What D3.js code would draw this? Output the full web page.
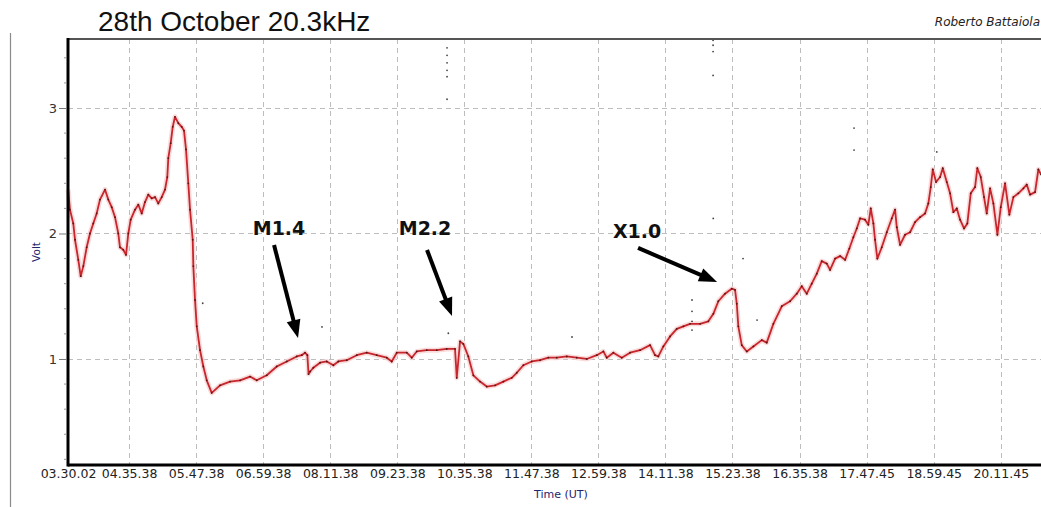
<!DOCTYPE html>
<html><head><meta charset="utf-8">
<script src="https://cdn.jsdelivr.net/npm/d3@7"></script>
<style>html,body{margin:0;padding:0;background:#fff;overflow:hidden}</style>
</head><body>
<svg id="chart" width="1041" height="507"></svg>
<script>
const chartTitle = "28th October 20.3kHz";
const author = "Roberto Battaiola";
const yAxisTitle = "Volt";
const xAxisTitle = "Time (UT)";
const xTickLabels = ["03.30.02","04.35.38","05.47.38","06.59.38","08.11.38","09.23.38","10.35.38","11.47.38","12.59.38","14.11.38","15.23.38","16.35.38","17.47.45","18.59.45","20.11.45"];
const yTicks = [1, 2, 3];

// Signal amplitude (V) vs time (decimal hours UT)
const hoursUT = [3.501,3.506,3.536,3.595,3.626,3.685,3.728,3.775,3.835,3.894,3.953,4.014,4.073,4.163,4.222,4.283,4.342,4.401,4.431,4.490,4.539,4.580,4.623,4.700,4.759,4.820,4.879,4.938,4.999,5.058,5.117,5.178,5.237,5.278,5.296,5.339,5.375,5.416,5.475,5.536,5.577,5.613,5.654,5.685,5.733,5.744,5.774,5.805,5.864,5.923,5.984,6.073,6.222,6.401,6.580,6.759,6.879,7.058,7.237,7.416,7.595,7.684,7.743,7.785,7.806,7.835,7.892,8.012,8.132,8.250,8.339,8.490,8.669,8.848,9.027,9.206,9.295,9.385,9.564,9.653,9.743,9.922,10.101,10.280,10.428,10.459,10.518,10.577,10.666,10.756,10.876,10.996,11.144,11.293,11.443,11.533,11.651,11.801,11.950,12.098,12.249,12.428,12.607,12.786,12.965,13.083,13.144,13.262,13.412,13.561,13.740,13.919,14.008,14.067,14.157,14.277,14.397,14.515,14.635,14.814,14.962,15.052,15.141,15.261,15.381,15.440,15.471,15.499,15.560,15.650,15.768,15.918,16.007,16.126,16.276,16.425,16.545,16.634,16.724,16.813,16.903,16.992,17.082,17.141,17.231,17.320,17.410,17.486,17.558,17.619,17.678,17.767,17.826,17.869,17.916,17.946,17.987,18.066,18.156,18.245,18.304,18.335,18.394,18.483,18.573,18.662,18.752,18.841,18.900,18.943,18.979,19.038,19.110,19.158,19.230,19.289,19.348,19.409,19.468,19.539,19.598,19.659,19.736,19.777,19.838,19.897,19.945,20.005,20.064,20.136,20.196,20.273,20.350,20.422,20.511,20.601,20.661,20.721,20.810,20.869,20.918];
const volts = [2.35,2.33,2.19,2.08,1.95,1.79,1.66,1.74,1.89,2.00,2.08,2.16,2.27,2.35,2.27,2.21,2.13,2.00,1.89,1.87,1.83,2.00,2.11,2.19,2.23,2.16,2.25,2.31,2.28,2.29,2.24,2.29,2.35,2.45,2.60,2.72,2.85,2.93,2.88,2.85,2.82,2.67,2.40,2.19,1.95,1.74,1.47,1.26,1.07,0.94,0.83,0.73,0.79,0.82,0.83,0.86,0.83,0.87,0.94,0.98,1.02,1.03,1.05,1.03,0.88,0.90,0.93,0.97,0.98,0.95,0.98,0.99,1.03,1.05,1.03,1.01,0.98,1.05,1.05,1.01,1.06,1.07,1.07,1.08,1.08,0.85,1.14,1.12,1.02,0.87,0.82,0.78,0.79,0.82,0.85,0.89,0.95,0.98,0.99,1.01,1.01,1.02,1.01,1.00,1.03,1.06,1.01,1.05,1.01,1.05,1.07,1.11,1.03,1.02,1.10,1.18,1.24,1.26,1.28,1.28,1.30,1.36,1.46,1.52,1.56,1.55,1.44,1.26,1.11,1.06,1.10,1.15,1.13,1.28,1.42,1.46,1.52,1.58,1.52,1.60,1.68,1.78,1.76,1.71,1.80,1.82,1.79,1.88,1.97,2.04,2.12,2.11,2.07,2.20,2.08,1.95,1.80,1.89,2.01,2.12,2.19,2.05,1.91,1.99,2.01,2.09,2.13,2.16,2.24,2.37,2.51,2.41,2.45,2.52,2.41,2.32,2.17,2.20,2.11,2.04,2.08,2.32,2.37,2.52,2.45,2.29,2.16,2.36,2.24,1.99,2.21,2.40,2.15,2.29,2.32,2.36,2.39,2.31,2.33,2.51,2.47];

// isolated stray samples
const strayHours = [10.285,10.285,10.285,10.285,10.285,10.285,15.047,15.047,15.047,15.047,17.570,17.570,15.050,15.583,15.834,12.522,8.047,5.912,10.308,14.670,14.670,14.670,14.670,19.051];
const strayVolts = [3.48,3.42,3.36,3.30,3.25,3.07,3.54,3.50,3.45,3.26,2.84,2.665,2.12,1.80,1.31,1.175,1.255,1.444,1.205,1.47,1.38,1.30,1.23,2.65];

// flare annotations
const flareLabels = ["M1.4", "M2.2", "X1.0"];
const flareHours = [7.618, 10.374, 15.118];
const flareVolts = [1.167, 1.343, 1.614];

const toHours = s => { const p = s.split('.').map(Number); return p[0] + p[1]/60 + p[2]/3600; };
const tickHours = xTickLabels.map(toHours);

const L = 68, T = 39, R = 1044, B = 465, VIEW_R = 1041;
const x = d3.scaleLinear().domain([tickHours[0], 20.97]).range([L, R]);
const y = d3.scaleLinear().domain([0.155, 3.55]).range([B, T]);

const svg = d3.select("#chart");
svg.append("rect").attr("width",1041).attr("height",507).attr("fill","#fff");

// left panel edge
svg.append("line").attr("x1",10.5).attr("x2",10.5).attr("y1",33).attr("y2",507)
  .attr("stroke","#8a8a8a").attr("stroke-width",1.2);

// grid
const grid = svg.append("g").attr("stroke","#bdbdbd").attr("stroke-width",1).attr("stroke-dasharray","5,4");
grid.selectAll("line.h").data(yTicks).join("line").attr("class","h")
  .attr("x1",L).attr("x2",VIEW_R).attr("y1",d=>Math.round(y(d))+0.5).attr("y2",d=>Math.round(y(d))+0.5);
grid.selectAll("line.v").data(tickHours.slice(1)).join("line").attr("class","v")
  .attr("x1",d=>Math.round(x(d))+0.5).attr("x2",d=>Math.round(x(d))+0.5).attr("y1",T).attr("y2",B);

// trace
const pts = hoursUT.map((h,i)=>[h, volts[i]]);
const line = d3.line().x(d=>x(d[0])).y(d=>y(d[1]));
svg.append("path").datum(pts).attr("d",line).attr("fill","none")
  .attr("stroke","#f6d2d2").attr("stroke-width",5).attr("stroke-linejoin","round").attr("opacity",0.8);
svg.append("path").datum(pts).attr("d",line).attr("fill","none")
  .attr("stroke","#c8262c").attr("stroke-width",1.8).attr("stroke-linejoin","round");
svg.append("g").selectAll("circle").data(pts).join("circle")
  .attr("cx",d=>x(d[0])).attr("cy",d=>y(d[1])).attr("r",0.9).attr("fill","#5a1414");
svg.append("g").selectAll("circle").data(strayHours.map((h,i)=>[h,strayVolts[i]])).join("circle")
  .attr("cx",d=>x(d[0])).attr("cy",d=>y(d[1])).attr("r",0.9).attr("fill","#444");

// frame / axes
svg.append("line").attr("x1",L).attr("x2",VIEW_R).attr("y1",T).attr("y2",T).attr("stroke","#555").attr("stroke-width",2);
svg.append("line").attr("x1",L).attr("x2",VIEW_R).attr("y1",B).attr("y2",B).attr("stroke","#000").attr("stroke-width",3);
svg.append("line").attr("x1",L).attr("x2",L).attr("y1",T-1).attr("y2",B+1.5).attr("stroke","#000").attr("stroke-width",3);

// y axis ticks
const yAxis = d3.axisLeft(y).tickValues(yTicks).tickSize(8).tickPadding(2).tickFormat(d3.format("d"));
const gy = svg.append("g").attr("transform",`translate(${L-1},0)`).call(yAxis);
gy.select(".domain").remove();
gy.selectAll(".tick line").attr("stroke","#777");
gy.selectAll(".tick text").attr("fill","#333").style("font-family","'DejaVu Sans', sans-serif").style("font-size","13px");
const minor = d3.range(1,18).map(i=>+(i*0.2).toFixed(1)).filter(v=>!yTicks.includes(v));
svg.append("g").selectAll("line").data(minor).join("line")
  .attr("x1",L-4).attr("x2",L-2).attr("y1",d=>y(d)).attr("y2",d=>y(d)).attr("stroke","#999").attr("stroke-width",1);

// x axis labels
const xAxis = d3.axisBottom(x).tickValues(tickHours).tickFormat((d,i)=>xTickLabels[i]).tickSize(0).tickPadding(4);
const gx = svg.append("g").attr("transform",`translate(0,${B})`).call(xAxis);
gx.select(".domain").remove();
gx.selectAll(".tick text").attr("fill","#222").style("font-family","'DejaVu Sans', sans-serif").style("font-size","12.5px");

// axis titles
svg.append("text").attr("transform",`translate(40,252) rotate(-90)`).attr("text-anchor","middle")
  .attr("fill","#1f2470").style("font-family","'DejaVu Sans', sans-serif").style("font-size","10.5px").text(yAxisTitle);
svg.append("text").attr("x",561).attr("y",498).attr("text-anchor","middle")
  .attr("fill","#1f2470").style("font-family","'DejaVu Sans', sans-serif").style("font-size","11px").text(xAxisTitle);

// title and author
svg.append("text").attr("x",98).attr("y",31).attr("fill","#111")
  .style("font-family","'Liberation Sans', Arial, sans-serif").style("font-size","28px").text(chartTitle);
svg.append("text").attr("x",1040).attr("y",26).attr("text-anchor","end").attr("fill","#222")
  .style("font-family","'DejaVu Sans', sans-serif").style("font-style","italic").style("font-size","12px").text(author);

// flare annotations
const labelOff = [[-19,-103],[-27,-81],[-80,-44]];
const arrowStart = [[-24,-93],[-25,-66],[-79,-34]];
const ann = svg.append("g");
flareLabels.forEach((lab,i)=>{
  const tx = x(flareHours[i]), ty = y(flareVolts[i]);
  const sx = tx + arrowStart[i][0], sy = ty + arrowStart[i][1];
  const ang = Math.atan2(ty - sy, tx - sx);
  const hl = 18, hw = 7;
  const bx = tx - hl*Math.cos(ang), by = ty - hl*Math.sin(ang);
  ann.append("line").attr("x1",sx).attr("y1",sy).attr("x2",bx+2*Math.cos(ang)).attr("y2",by+2*Math.sin(ang))
    .attr("stroke","#000").attr("stroke-width",4);
  const px = -Math.sin(ang), py = Math.cos(ang);
  ann.append("path").attr("d",`M${tx},${ty}L${bx+hw*px},${by+hw*py}L${bx-hw*px},${by-hw*py}Z`).attr("fill","#000");
  ann.append("text").attr("x",tx+labelOff[i][0]).attr("y",ty+labelOff[i][1]).attr("text-anchor","middle")
    .attr("fill","#111").style("font-family","'DejaVu Sans', sans-serif").style("font-weight","bold").style("font-size","19px").text(lab);
});
</script>
</body></html>
